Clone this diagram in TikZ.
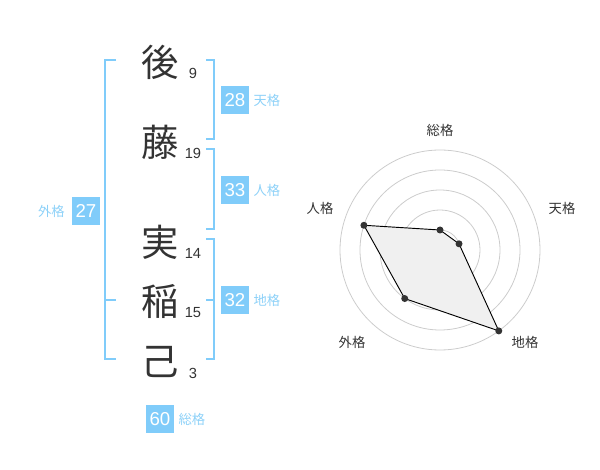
\documentclass[tikz,border=0pt]{standalone}
\usepackage{fontspec}
\usepackage{xcolor}
\usepackage{tikz}
\setmainfont{Liberation Sans}
\newfontfamily\jpfont{Noto Sans CJK JP}
\usetikzlibrary{positioning}

\definecolor{kakublue}{HTML}{80CCFA}
\definecolor{kakutext}{HTML}{8DD1F8}
\definecolor{inkgray}{HTML}{333333}

\begin{document}
\begin{tikzpicture}[x=0.75pt,y=-0.75pt]
        \useasboundingbox (0,0) rectangle (600,470);
        % name characters and strokes
        \begin{scope}[every node/.style={text=inkgray,inner sep=0pt}]
          \node[font=\jpfont\fontsize{28}{30}\selectfont] (go) at (160,62) {後};
          \node[font=\jpfont\fontsize{28}{30}\selectfont] (to) at (160,142) {藤};
          \node[font=\jpfont\fontsize{28}{30}\selectfont] (ji) at (160,242) {実};
          \node[font=\jpfont\fontsize{28}{30}\selectfont] (ina) at (160,302) {稲};
          \node[font=\jpfont\fontsize{28}{30}\selectfont] (ki) at (160,362) {己};
          \node[font=\fontsize{11}{12}\selectfont] (ngo) at (193,73) {9};
          \node[font=\fontsize{11}{12}\selectfont] (nto) at (193,153) {19};
          \node[font=\fontsize{11}{12}\selectfont] (nji) at (193,253) {14};
          \node[font=\fontsize{11}{12}\selectfont] (nina) at (193,313) {15};
          \node[font=\fontsize{11}{12}\selectfont] (nki) at (193,373) {3};
        \end{scope}
        % brackets
        \begin{scope}[every path/.style={draw=kakublue,line width=1.5pt}]
          \path (206,60) -- (214,60) -- (214,139) -- (206,139);
          \path (206,149) -- (214,149) -- (214,229) -- (206,229);
          \path (206,239) -- (214,239) -- (214,359) -- (206,359);
          \path (206,300) -- (214,300);
          \path (116,60) -- (105,60) -- (105,359) -- (116,359);
          \path (105,300) -- (116,300);
        \end{scope}
        % scores
        \begin{scope}[every node/.style={fill=kakublue,text=white,minimum size=21pt,inner sep=0pt,font=\fontsize{14}{14}\selectfont}]
          \node (ten) at (235,100) {28};
          \node (jin) at (235,190) {33};
          \node (chi) at (235,300) {32};
          \node (gai) at (86,211) {27};
          \node (sou) at (160,419) {60};
        \end{scope}
        \begin{scope}[every node/.style={text=kakutext,inner sep=0pt,font=\jpfont\fontsize{10}{10}\selectfont}]
          \node[right=3pt of ten] (lten) {天格};
          \node[right=3pt of jin] (ljin) {人格};
          \node[right=3pt of chi] (lchi) {地格};
          \node[left=5pt of gai] (lgai) {外格};
          \node[right=3pt of sou] (lsou) {総格};
        \end{scope}
        % radar
        \begin{scope}[shift={(440,250)},yscale=-1]
          \foreach \r in {20,40,...,100}
            \draw[black!20,line width=0.6pt] (0,0) circle[radius=\r];
          \fill[black!25] (0,0) circle[radius=4];
          \coordinate (psou) at (90:20);
          \coordinate (pten) at (18:20);
          \coordinate (pchi) at (-54:100);
          \coordinate (pgai) at (-126:60);
          \coordinate (pjin) at (162:80);
          \filldraw[fill=black!6,draw=black,line width=0.7pt]
            (psou) -- (pten) -- (pchi) -- (pgai) -- (pjin) -- cycle;
          \foreach \p in {psou,pten,pchi,pgai,pjin}
            \fill[inkgray] (\p) circle[radius=3.5];
          \begin{scope}[every node/.style={text=inkgray,inner sep=0pt,font=\jpfont\fontsize{10}{10}\selectfont}]
            \node (asou) at (0,120) {総格};
            \node (aten) at (122,42) {天格};
            \node (ajin) at (-120,42) {人格};
            \node (agai) at (-88,-92) {外格};
            \node (achi) at (85,-92) {地格};
          \end{scope}
        \end{scope}
      \end{tikzpicture}
\end{document}
